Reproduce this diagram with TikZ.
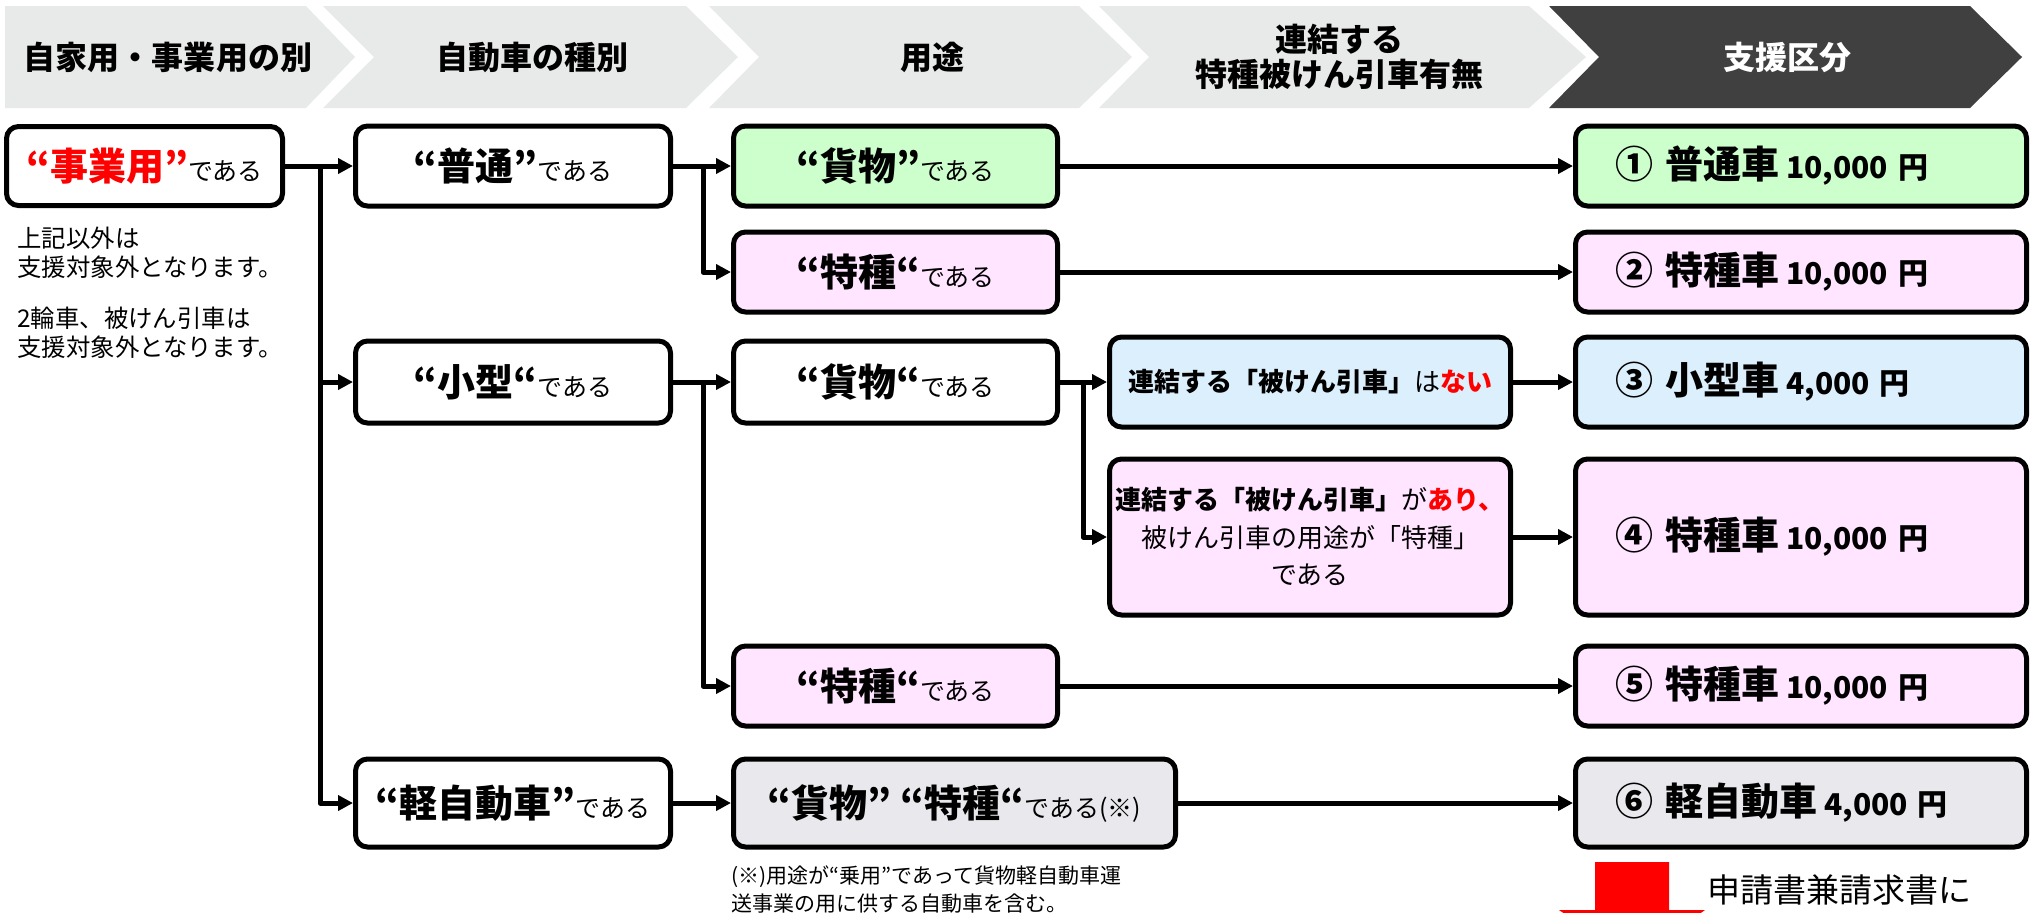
\documentclass[tikz,border=0pt]{standalone}
\usepackage{fontspec}
\setmainfont{Noto Sans CJK JP}
\usetikzlibrary{arrows.meta}
\definecolor{hdrgray}{HTML}{E8E9E9}
\definecolor{hdrdark}{HTML}{404040}
\definecolor{cargofill}{HTML}{CCFFCC}
\definecolor{specfill}{HTML}{FFE5FF}
\definecolor{smallfill}{HTML}{DCEFFC}
\definecolor{keifill}{HTML}{E9E8EC}
\newcommand{\kw}[1]{{\fontsize{19}{23}\selectfont\bfseries #1}}
\newcommand{\tl}[1]{{\fontsize{12.5}{15}\selectfont #1}}
\newcommand{\amt}[1]{{\fontsize{15}{18}\selectfont\bfseries #1}}

\begin{document}
\begin{tikzpicture}[x=0.5pt, y=-0.5pt, line join=round,
  >={Triangle[length=7.5pt,width=7.5pt]},
  box/.style={draw, line width=2.5pt, rounded corners=6pt, inner sep=0pt, align=center},
  hdr/.style={font=\fontsize{16}{17.5}\selectfont\bfseries, align=center},
  arr/.style={->, line width=2.5pt},
  note/.style={anchor=west, align=left, inner sep=0pt}]
  \useasboundingbox (0,0) rectangle (2038,912);
  % header chevrons
  \fill[hdrgray] (5,6) -- (306,6) -- (355,57) -- (306,108) -- (5,108) -- cycle;
  \fill[hdrgray] (323,6) -- (686,6) -- (738,57) -- (686,108) -- (323,108) -- (374,57) -- cycle;
  \fill[hdrgray] (709,6) -- (1079,6) -- (1132,57) -- (1079,108) -- (709,108) -- (759,57) -- cycle;
  \fill[hdrgray] (1099,6) -- (1529,6) -- (1586,57) -- (1529,108) -- (1099,108) -- (1149,57) -- cycle;
  \fill[hdrdark] (1549,6) -- (1970,6) -- (2022,57) -- (1970,108) -- (1549,108) -- (1599,57) -- cycle;
  \node[hdr] (h1) at (168,57) {自家用・事業用の別};
  \node[hdr] (h2) at (532,57) {自動車の種別};
  \node[hdr] (h3) at (932,57) {用途};
  \node[hdr] (h4) at (1339,57) {連結する\\特種被けん引車有無};
  \node[hdr, text=white] (h5) at (1787,57) {支援区分};

  % boxes
  \node[box, minimum width=138pt, minimum height=39.5pt] (biz) at (144.5,166)
    {\textcolor{red}{\kw{“事業用”}}\tl{である}};
  \node[box, minimum width=157.5pt, minimum height=40pt] (std) at (513,166) {\kw{“普通”}\tl{である}};
  \node[box, minimum width=157.5pt, minimum height=41pt] (cmp) at (513,382) {\kw{“小型“}\tl{である}};
  \node[box, minimum width=157.5pt, minimum height=44pt] (kei) at (513,803) {\kw{“軽自動車”}\tl{である}};

  \node[box, fill=cargofill, minimum width=162pt, minimum height=40pt] (cargoA) at (895.5,166) {\kw{“貨物”}\tl{である}};
  \node[box, fill=specfill, minimum width=162pt, minimum height=40pt] (specA) at (895.5,272) {\kw{“特種“}\tl{である}};
  \node[box, minimum width=162pt, minimum height=41pt] (cargoB) at (895.5,382) {\kw{“貨物“}\tl{である}};
  \node[box, fill=specfill, minimum width=162pt, minimum height=40pt] (specB) at (895.5,686) {\kw{“特種“}\tl{である}};
  \node[box, fill=keifill, minimum width=221pt, minimum height=44pt] (keiuse) at (954.5,803)
    {\kw{“貨物” “特種“}\tl{である(※)}};

  \node[box, fill=smallfill, minimum width=200.5pt, minimum height=45pt,
    font=\fontsize{13}{18.75}\selectfont] (nolink) at (1310,382)
    {{\bfseries 連結する「被けん引車」}は{\bfseries\color{red}ない}};
  \node[box, fill=specfill, minimum width=200.5pt, minimum height=78pt,
    font=\fontsize{13}{18.75}\selectfont] (link) at (1310,537)
    {{\bfseries 連結する「被けん引車」}が{\bfseries\color{red}あり、}\\被けん引車の用途が「特種」\\である};

  \node[box, fill=cargofill, minimum width=225.5pt, minimum height=40pt, text width=186pt, align=left] (s1) at (1801,166)
    {\kw{①\,\,普通車}\,\,\amt{10,000\,\,円}};
  \node[box, fill=specfill, minimum width=225.5pt, minimum height=40pt, text width=186pt, align=left] (s2) at (1801,272)
    {\kw{②\,\,特種車}\,\,\amt{10,000\,\,円}};
  \node[box, fill=smallfill, minimum width=225.5pt, minimum height=45pt, text width=186pt, align=left] (s3) at (1801,382)
    {\kw{③\,\,小型車}\,\,\amt{4,000\,\,円}};
  \node[box, fill=specfill, minimum width=225.5pt, minimum height=78pt, text width=186pt, align=left] (s4) at (1801,537)
    {\kw{④\,\,特種車}\,\,\amt{10,000\,\,円}};
  \node[box, fill=specfill, minimum width=225.5pt, minimum height=40pt, text width=186pt, align=left] (s5) at (1801,686)
    {\kw{⑤\,\,特種車}\,\,\amt{10,000\,\,円}};
  \node[box, fill=keifill, minimum width=225.5pt, minimum height=44pt, text width=186pt, align=left] (s6) at (1801,803)
    {\kw{⑥\,\,軽自動車}\,\,\amt{4,000\,\,円}};

  % notes
  \node[note, font=\fontsize{12.2}{14.5}\selectfont] (note1) at (17,252.5) {上記以外は\\支援対象外となります。};
  \node[note, font=\fontsize{12.2}{14.5}\selectfont] (note2) at (17,333) {2輪車、被けん引車は\\支援対象外となります。};
  \node[note, font=\fontsize{10.5}{14}\selectfont] (foot) at (731,889) {(※)用途が“乗用”であって貨物軽自動車運\\送事業の用に供する自動車を含む。};

  % connectors
  \coordinate (j1) at (320,166);
  \coordinate (j2) at (703,166);
  \coordinate (j3) at (703,382);
  \coordinate (j4) at (1083,382);
  \draw[arr] (biz.east) -- (std.west);
  \draw[arr] (j1) |- (cmp.west);
  \draw[arr] (j1) |- (kei.west);
  \draw[arr] (std.east) -- (cargoA.west);
  \draw[arr] (j2) |- (specA.west);
  \draw[arr] (cmp.east) -- (cargoB.west);
  \draw[arr] (j3) |- (specB.west);
  \draw[arr] (kei.east) -- (keiuse.west);
  \draw[arr] (cargoB.east) -- (nolink.west);
  \draw[arr] (j4) |- (link.west);
  \draw[arr] (cargoA.east) -- (s1.west);
  \draw[arr] (specA.east) -- (s2.west);
  \draw[arr] (nolink.east) -- (s3.west);
  \draw[arr] (link.east) -- (s4.west);
  \draw[arr] (specB.east) -- (s5.west);
  \draw[arr] (keiuse.east) -- (s6.west);

  % red down arrow, cut by the page edge
  \fill[red] (1595,862) -- (1669,862) -- (1669,910) -- (1705,910) -- (1632,960) -- (1559,910) -- (1595,910) -- cycle;
  \node[note, font=\fontsize{16.5}{18}\selectfont] (apply) at (1707,890) {申請書兼請求書に};
\end{tikzpicture}
\end{document}
